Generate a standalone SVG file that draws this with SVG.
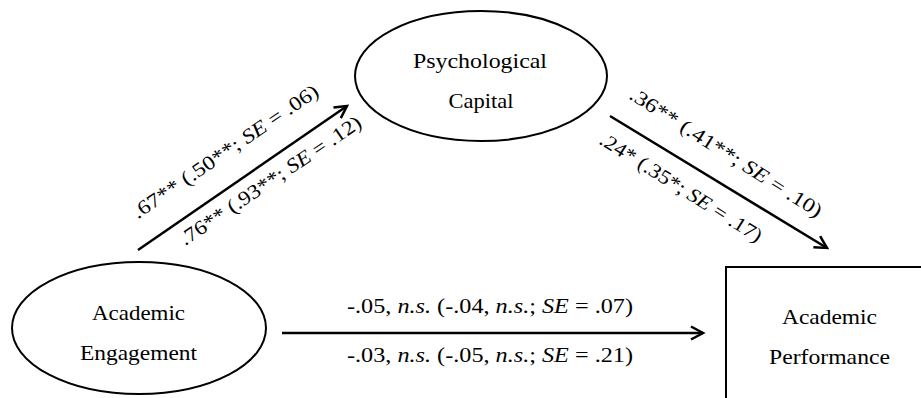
<svg xmlns="http://www.w3.org/2000/svg" width="921" height="398" viewBox="0 0 921 398">
<style>
.node{fill:none;stroke:#000;stroke-width:2}
.nt{font-family:"Liberation Serif","Times New Roman",serif;font-size:22px;fill:#000;text-anchor:middle}
.lb{font-family:"Liberation Serif","Times New Roman",serif;font-size:20px;fill:#000;text-anchor:middle}
.it{font-style:italic}
.edge{stroke:#000;stroke-width:2.5;fill:none}
</style>
<defs>
<marker id="ah" viewBox="-14 -9 17 18" refX="0" refY="0" markerWidth="17" markerHeight="18" markerUnits="userSpaceOnUse" orient="auto">
<path d="M-12,-6.5 L0,0 L-12,6.5" fill="none" stroke="#000" stroke-width="2.5" stroke-linejoin="miter"/>
</marker>
</defs>
<rect width="921" height="398" fill="#fff"/>
<g id="psychological-capital">
<ellipse class="node" cx="481" cy="76" rx="126" ry="65"/>
<text class="nt" x="480" y="68" textLength="134" lengthAdjust="spacingAndGlyphs">Psychological</text>
<text class="nt" x="481" y="108" textLength="65" lengthAdjust="spacingAndGlyphs">Capital</text>
</g>
<g id="academic-engagement">
<ellipse class="node" cx="139" cy="328" rx="127" ry="66"/>
<text class="nt" x="138.5" y="320" textLength="93" lengthAdjust="spacingAndGlyphs">Academic</text>
<text class="nt" x="138.5" y="360" textLength="117" lengthAdjust="spacingAndGlyphs">Engagement</text>
</g>
<g id="academic-performance">
<rect class="node" x="726" y="267" width="260" height="200"/>
<text class="nt" x="829.5" y="324" textLength="95" lengthAdjust="spacingAndGlyphs">Academic</text>
<text class="nt" x="829.5" y="364" textLength="121" lengthAdjust="spacingAndGlyphs">Performance</text>
</g>
<g id="connectors">
<line class="edge" x1="138" y1="250" x2="347" y2="106" marker-end="url(#ah)"/>
<line class="edge" x1="610" y1="116" x2="827" y2="248" marker-end="url(#ah)"/>
<line class="edge" x1="282" y1="333" x2="703" y2="333" marker-end="url(#ah)"/>
<text class="lb" transform="translate(229,157) rotate(-34.4)" textLength="221" lengthAdjust="spacingAndGlyphs">.67** (.50**; <tspan class="it">SE</tspan> = .06)</text>
<text class="lb" transform="translate(274,186) rotate(-34)" textLength="215" lengthAdjust="spacingAndGlyphs">.76** (.93**; <tspan class="it">SE</tspan> = .12)</text>
<text class="lb" transform="translate(722.5,158) rotate(32.4)" textLength="224" lengthAdjust="spacingAndGlyphs">.36** (.41**; <tspan class="it">SE</tspan> = .10)</text>
<text class="lb" transform="translate(677.5,193) rotate(32.2)" textLength="188" lengthAdjust="spacingAndGlyphs">.24* (.35*; <tspan class="it">SE</tspan> = .17)</text>
<text class="lb" x="490" y="313" textLength="286" lengthAdjust="spacingAndGlyphs">-.05, <tspan class="it">n.s.</tspan> (-.04, <tspan class="it">n.s.</tspan>; <tspan class="it">SE</tspan> = .07)</text>
<text class="lb" x="490" y="362" textLength="286" lengthAdjust="spacingAndGlyphs">-.03, <tspan class="it">n.s.</tspan> (-.05, <tspan class="it">n.s.</tspan>; <tspan class="it">SE</tspan> = .21)</text>
</g>
</svg>
